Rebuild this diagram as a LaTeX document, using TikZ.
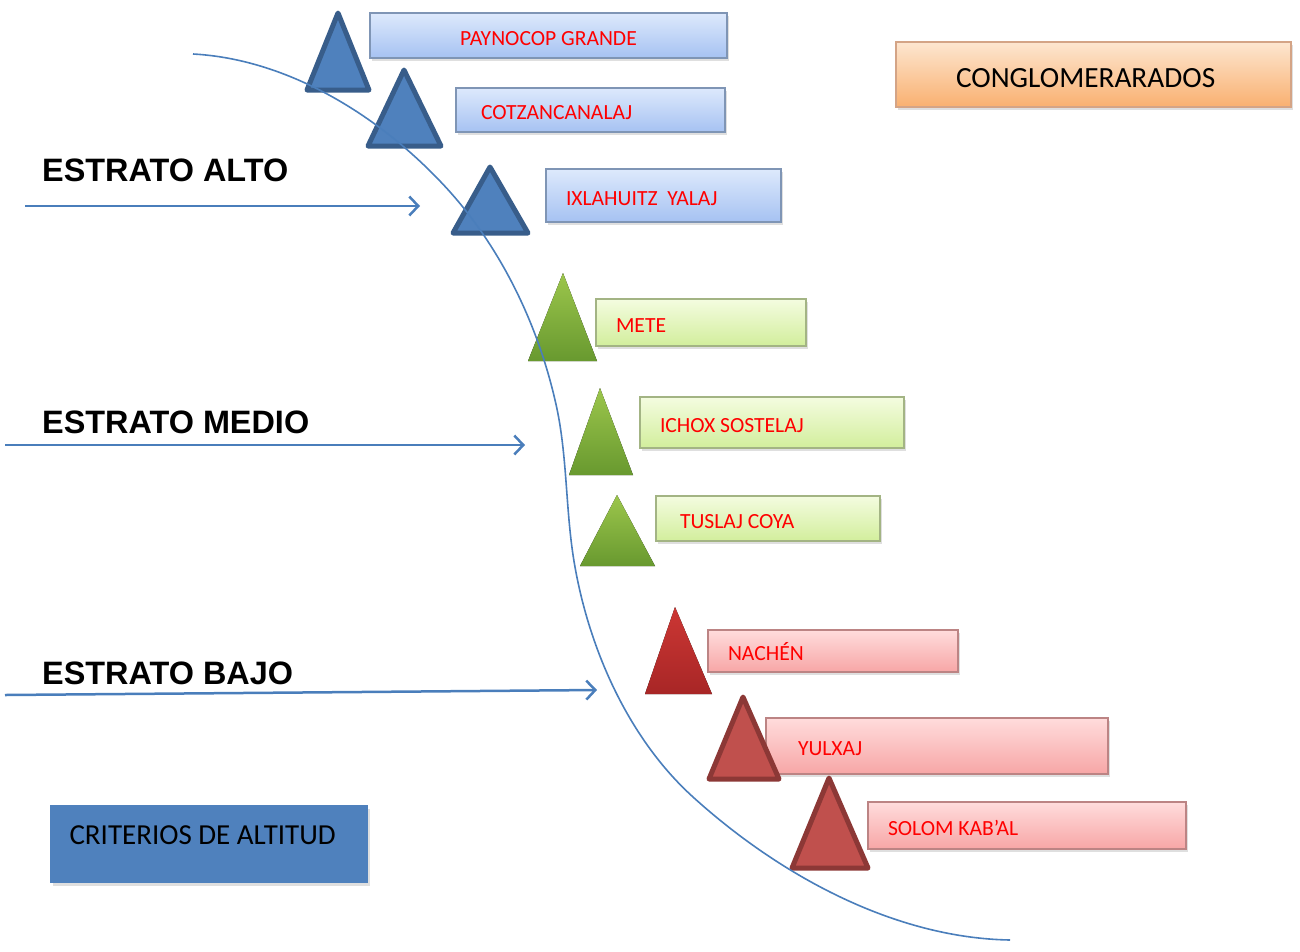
\documentclass[tikz,border=0pt]{standalone}
\usepackage{fontspec}
\setmainfont{Carlito}
\newfontfamily\arialfont{Liberation Sans}
\usetikzlibrary{arrows.meta,shadows,calc}
\definecolor{bbtop}{HTML}{DDE9FC}
\definecolor{bbbot}{HTML}{A6C2F2}
\definecolor{bbdraw}{HTML}{7F95B5}
\definecolor{gbtop}{HTML}{F4FCE0}
\definecolor{gbbot}{HTML}{D2EE9C}
\definecolor{gbdraw}{HTML}{A3B484}
\definecolor{rbtop}{HTML}{FFDCDC}
\definecolor{rbbot}{HTML}{F7A6A6}
\definecolor{rbdraw}{HTML}{BC8484}
\definecolor{obtop}{HTML}{FDE6D0}
\definecolor{obbot}{HTML}{F9B070}
\definecolor{obdraw}{HTML}{D4A486}
\definecolor{tblue}{HTML}{4F81BD}
\definecolor{tbluedark}{HTML}{385D8A}
\definecolor{tgtop}{HTML}{9CC64C}
\definecolor{tgbot}{HTML}{68992F}
\definecolor{trtop}{HTML}{CC3734}
\definecolor{trbot}{HTML}{A82626}
\definecolor{tred}{HTML}{C0504D}
\definecolor{treddark}{HTML}{8C3836}
\definecolor{curvec}{HTML}{4A7EBB}
\definecolor{labred}{HTML}{FF0000}
\tikzset{
  x=1pt, y=-1pt,
  boxbase/.style={rectangle, line width=2pt, anchor=north west, inner ysep=0pt,
    font=\fontsize{21.6}{24}\selectfont, text=labred, text height=19pt, text depth=0pt,
    drop shadow={shadow xshift=2pt, shadow yshift=-3pt, opacity=0.25}},
  bluebox/.style={boxbase, draw=bbdraw, top color=bbtop, bottom color=bbbot},
  greenbox/.style={boxbase, draw=gbdraw, top color=gbtop, bottom color=gbbot},
  redbox/.style={boxbase, draw=rbdraw, top color=rbtop, bottom color=rbbot},
  leftbox/.style n args={3}{text width=#1pt-2*#2pt, inner xsep=#2pt, minimum height=#3pt, align=flush left},
  estrato/.style={anchor=west, inner sep=0pt, font=\arialfont\bfseries\fontsize{32.4}{36}\selectfont},
  arr/.style={draw=curvec, line width=2.5pt, -{Straight Barb[length=9pt,width=19pt,line width=2.5pt]}},
  btri/.style={fill=tblue, draw=tbluedark, line width=5pt, line join=round},
  gtri/.style={top color=tgtop, bottom color=tgbot},
  rtri/.style={fill=tred, draw=treddark, line width=5pt, line join=round},
}
\begin{document}
\begin{tikzpicture}
\useasboundingbox (0,0) rectangle (1300,951);
% boxes
\node[bluebox, minimum width=357pt, minimum height=45pt] (pay) at (369,12) {PAYNOCOP GRANDE};
\node[bluebox, leftbox={269}{25}{44}] (cot) at (455,87) {COTZANCANALAJ};
\node[bluebox, leftbox={235}{20}{53}] (ixl) at (545,168) {IXLAHUITZ\ \ YALAJ};
\node[greenbox, leftbox={210}{20}{47}] (met) at (595,298) {METE};
\node[greenbox, leftbox={264}{20}{51}] (ich) at (639,396) {ICHOX SOSTELAJ};
\node[greenbox, leftbox={224}{24}{45}] (tus) at (655,495) {TUSLAJ COYA};
\node[redbox, leftbox={250}{20}{42}] (nac) at (707,629) {NACHÉN};
\node[redbox, leftbox={342}{32}{56}] (yul) at (765,717) {YULXAJ};
\node[redbox, leftbox={318}{20}{47}] (sol) at (867,801) {SOLOM KAB’AL};
\node[boxbase, draw=obdraw, top color=obtop, bottom color=obbot, text=black,
  font=\fontsize{29.3}{34}\selectfont, text height=25pt, leftbox={395}{60}{65}] (con) at (895,41) {CONGLOMERARADOS};
\node[boxbase, draw=tblue, line width=1pt, fill=tblue, text=black,
  font=\fontsize{29}{33}\selectfont, text height=18pt, text depth=18pt, leftbox={317}{19}{77}] (cri) at (50,805) {CRITERIOS DE ALTITUD};
% triangles
\draw[btri] (338,13) -- (369,90) -- (307,90) -- cycle;
\draw[btri] (404,70) -- (441,146) -- (368,146) -- cycle;
\draw[btri] (490,167) -- (528,233) -- (453,233) -- cycle;
\fill[gtri] (563,273) -- (597,361) -- (528,361) -- cycle;
\fill[gtri] (600,388) -- (633,475) -- (569,475) -- cycle;
\fill[gtri] (617,495) -- (655,566) -- (580,566) -- cycle;
\fill[top color=trtop, bottom color=trbot] (675,607) -- (712,694) -- (645,694) -- cycle;
\draw[rtri] (743,697) -- (779,779) -- (709,779) -- cycle;
\draw[rtri] (829,778) -- (868,868) -- (792,868) -- cycle;
% curve
\coordinate (c0) at (193,54);
\coordinate (c1) at (437,178);
\coordinate (c2) at (555,400);
\coordinate (c3) at (575,567);
\coordinate (c4) at (693,797);
\coordinate (c5) at (1010,940);
\draw[curvec, line width=1.6pt] (c0)
  .. controls (285,59) and (373,112) .. (c1)
  .. controls (496,238) and (536,318) .. (c2)
  .. controls (568,454) and (565,512) .. (c3)
  .. controls (590,651) and (629,739) .. (c4)
  .. controls (779,875) and (894,938) .. (c5);
% estrato labels and arrows
\node[estrato] (alto) at (42,170) {ESTRATO ALTO};
\node[estrato] (medio) at (42,422) {ESTRATO MEDIO};
\node[estrato] (bajo) at (42,673) {ESTRATO BAJO};
\coordinate (a1s) at (25,206); \coordinate (a1e) at (420,206);
\coordinate (a2s) at (5,445); \coordinate (a2e) at (525,445);
\coordinate (a3s) at (5,695); \coordinate (a3e) at (597,690);
\draw[arr] (a1s) -- (a1e);
\draw[arr] (a2s) -- (a2e);
\draw[arr] (a3s) -- (a3e);
\end{tikzpicture}
\end{document}
